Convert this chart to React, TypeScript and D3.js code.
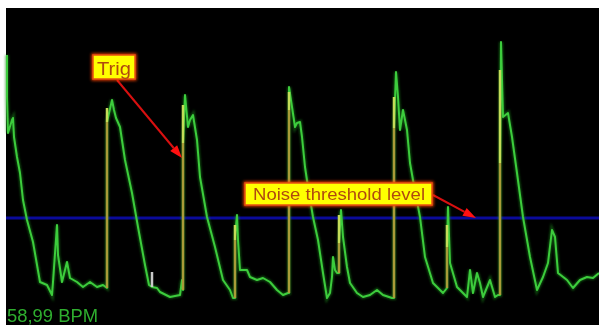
import React from "react";
import * as d3 from "d3";

// ---- data (sample index, amplitude) ----
const traceT = [1,1,2,6,7,8,11,14,17,21,27,34,41,46,47,51,52,56,61,64,71,77,84,91,97,101,101,106,108,110,114,119,126,132,139,143,146,151,154,164,174,176,177,177,179,182,184,187,191,194,201,209,217,224,227,229,229,231,232,234,241,244,251,257,264,271,277,282,283,283,286,289,291,294,296,299,302,307,312,317,321,324,326,327,329,331,333,333,335,337,341,344,351,357,364,371,377,386,388,388,390,392,394,397,401,404,407,414,419,427,437,441,441,442,444,451,461,464,467,471,474,477,484,489,492,494,494,495,497,502,506,511,517,524,531,537,542,546,549,552,561,567,574,581,587,593];
const traceV = [245,203,167,180,182,163,143,127,100,80,58,18,15,5,18,75,45,18,38,22,18,13,18,13,15,12,178,200,190,182,173,140,107,73,35,15,13,12,8,3,5,20,10,157,205,173,180,185,160,123,83,53,20,10,2,2,63,85,60,30,30,23,20,22,18,10,5,7,7,213,193,173,177,178,163,133,113,83,60,27,2,7,23,43,30,27,27,57,90,63,33,17,7,3,5,10,5,2,2,172,228,203,170,190,170,137,120,83,43,17,7,12,53,93,37,13,3,30,7,27,17,3,20,3,5,5,137,258,183,187,163,127,83,43,10,23,37,70,63,27,20,12,20,23,22,27];

// rising edges: [t, low, mid (olive up to), high (light up to)]
const riseT = [101, 177, 229, 283, 333, 388, 441, 494];
const riseLow = [12, 10, 2, 7, 27, 2, 12, 5];
const riseMid = [178, 157, 60, 190, 57, 172, 53, 137];
const riseHigh = [192, 195, 75, 208, 85, 203, 75, 230];

const markerT = [146];
const markerLow = [13];
const markerHigh = [28];

const threshold = 82;
const bpmLabel = "58,99 BPM";
const trigLabel = "Trig";
const noiseLabel = "Noise threshold level";
const trigTarget = { t: 177, v: 142 };
const noiseTarget = { t: 470, v: 82 };

export default function App() {
  const W = 599, H = 325;
  const x = d3.scaleLinear().domain([0, 593]).range([6, 599]);
  const y = d3.scaleLinear().domain([0, 260]).range([300, 40]);
  const pts: [number, number][] = traceT.map((t, i) => [t, traceV[i]]);
  const line = d3.line<[number, number]>().x(d => x(d[0])).y(d => y(d[1]));
  const path = line(pts) || "";

  const arrow = (x1: number, y1: number, x2: number, y2: number) => {
    const a = Math.atan2(y2 - y1, x2 - x1);
    const L = 13, w = 4.5;
    const bx = x2 - L * Math.cos(a), by = y2 - L * Math.sin(a);
    const px = -Math.sin(a) * w, py = Math.cos(a) * w;
    return (
      <g>
        <line x1={x1} y1={y1} x2={bx} y2={by} stroke="#d81010" strokeWidth={2} />
        <polygon points={`${x2},${y2} ${bx + px},${by + py} ${bx - px},${by - py}`} fill="#ff1010" />
      </g>
    );
  };

  const font = "Liberation Sans, Arial, sans-serif";

  return (
    <svg width={W} height={H} style={{ position: "fixed", left: 0, top: 0, display: "block" }}>
      <defs>
        <filter id="glow" x="-20%" y="-20%" width="140%" height="140%">
          <feGaussianBlur stdDeviation="1.2" />
        </filter>
        <filter id="boxglow" x="-20%" y="-40%" width="140%" height="180%">
          <feGaussianBlur stdDeviation="1.5" />
        </filter>
        <filter id="soft" x="-10%" y="-10%" width="120%" height="120%">
          <feGaussianBlur stdDeviation="0.4" />
        </filter>
      </defs>
      <rect x={0} y={0} width={W} height={H} fill="#ffffff" />
      <rect x={6} y={8} width={W - 6} height={H - 8} fill="#000000" />
      <line x1={6} x2={W} y1={y(threshold)} y2={y(threshold)} stroke="#0a0a9a" strokeWidth={3} />
      <path d={path} fill="none" stroke="#1f8f1f" strokeWidth={4} opacity={0.55} filter="url(#glow)" />
      <path d={path} fill="none" stroke="#3ccc3c" strokeWidth={2} strokeLinejoin="round" filter="url(#soft)" />
      <g filter="url(#soft)">
        {riseT.map((t, i) => (
          <g key={i}>
            <line x1={x(t)} x2={x(t)} y1={y(riseLow[i])} y2={y(riseMid[i])} stroke="#a89c38" strokeWidth={2.5} />
            <line x1={x(t)} x2={x(t)} y1={y(riseMid[i])} y2={y(riseHigh[i])} stroke="#c4dc58" strokeWidth={2.5} />
          </g>
        ))}
        {markerT.map((t, i) => (
          <line key={i} x1={x(t)} x2={x(t)} y1={y(markerLow[i])} y2={y(markerHigh[i])} stroke="#c8c8c8" strokeWidth={2.5} />
        ))}
      </g>
      {arrow(117, 80, x(trigTarget.t) - 1, y(trigTarget.v))}
      {arrow(433, 195, x(noiseTarget.t), y(noiseTarget.v))}
      <g>
        <rect x={93} y={55} width={42} height={24} fill="none" stroke="#ff4000" strokeWidth={3} filter="url(#boxglow)" />
        <rect x={93} y={55} width={42} height={24} fill="#ffff00" stroke="#e85010" strokeWidth={1.5} />
        <text x={97} y={75} fontFamily={font} fontSize={19} fill="#b04a10" textLength={34} lengthAdjust="spacingAndGlyphs" filter="url(#soft)">{trigLabel}</text>
      </g>
      <g>
        <rect x={245} y={183} width={187} height={22} fill="none" stroke="#ff4000" strokeWidth={3} filter="url(#boxglow)" />
        <rect x={245} y={183} width={187} height={22} fill="#ffff00" stroke="#e85010" strokeWidth={1.5} />
        <text x={253} y={200} fontFamily={font} fontSize={17} fill="#b04a10" textLength={172} lengthAdjust="spacingAndGlyphs" filter="url(#soft)">{noiseLabel}</text>
      </g>
      <text x={7} y={322} fontFamily={font} fontSize={18} fill="#2fae2f" textLength={91} lengthAdjust="spacingAndGlyphs" filter="url(#soft)">{bpmLabel}</text>
    </svg>
  );
}
